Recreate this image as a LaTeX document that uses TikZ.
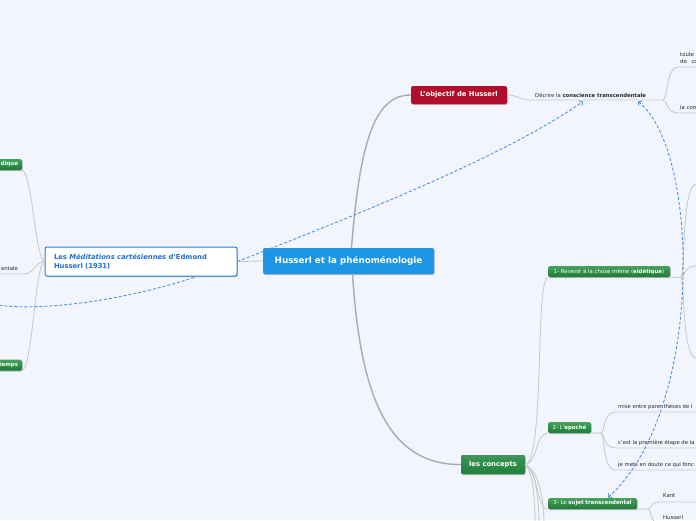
\documentclass[tikz,border=0pt]{standalone}
\usepackage{fontspec}
\setmainfont{DejaVu Sans}
\usetikzlibrary{arrows.meta,shadows}
\definecolor{bg}{HTML}{F2F5FD}
\definecolor{cblue}{HTML}{1E96E8}
\definecolor{cred}{HTML}{B20E2C}
\definecolor{cgreen}{HTML}{1D8239}
\definecolor{gtop}{HTML}{46A25C}
\definecolor{gbot}{HTML}{1E7A36}
\definecolor{mblue}{HTML}{1F6FD0}
\definecolor{mborder}{HTML}{2B7FD6}
\definecolor{lgray}{HTML}{CACACA}
\definecolor{dgray}{HTML}{ABABAB}
\definecolor{rel}{HTML}{4C92E0}
\definecolor{txt}{HTML}{262626}
\tikzset{
  shad/.style={drop shadow={shadow xshift=0.6pt,shadow yshift=-1pt,opacity=0.25,fill=black}},
  bigbox/.style={rounded corners=2pt,inner sep=0pt,text=white,shad},
  greenbox/.style={rounded corners=1.5pt,inner sep=0pt,minimum height=11pt,text=white,
     top color=gtop,bottom color=gbot,font=\fontsize{5.4}{6}\selectfont,shad},
  small/.style={inner sep=0pt,text=txt,font=\fontsize{5.3}{7}\selectfont},
  main/.style={draw=dgray,line width=1.4pt},
  sub/.style={draw=lgray,line width=0.9pt},
  relation/.style={draw=rel,line width=0.9pt,dash pattern=on 3pt off 2pt},
  barb/.tip={Straight Barb[length=2.6pt,width=5.5pt,line width=0.8pt]}
}
\begin{document}
\begin{tikzpicture}[x=1pt,y=-1pt]
\useasboundingbox (0,0) rectangle (696,520);
\fill[bg] (0,0) rectangle (696,520);
\clip (0,0) rectangle (696,520);

% ---------- nodes ----------
\node[bigbox,fill=cblue,minimum width=171pt,minimum height=26pt,
      font=\fontsize{8.75}{10}\selectfont\bfseries] (ctr) at (348.5,261) {Husserl et la phénoménologie};
\node[bigbox,fill=cred,minimum width=96pt,minimum height=18pt,
      font=\fontsize{6.8}{8}\selectfont\bfseries] (obj) at (459,95) {L'objectif de Husserl};
\node[bigbox,fill=cgreen,top color=cgreen!85!white,bottom color=cgreen,minimum width=64pt,minimum height=19pt,
      font=\fontsize{6.8}{8}\selectfont\bfseries] (con) at (493,464.5) {les concepts};
\node[rounded corners=2pt,fill=white,draw=mborder,line width=1pt,shad,inner xsep=9pt,inner ysep=0pt,
      minimum height=29pt,text width=174pt,align=left,text=mblue,
      font=\fontsize{6.8}{9}\selectfont\bfseries] (med) at (141,261.5)
      {Les \textit{Méditations cartésiennes} d'Edmond\\Husserl (1931)};

\node[greenbox,minimum width=122pt] (rev) at (609,271.5) {1- Revenir à la chose même (\textbf{eidétique})};
\node[greenbox,minimum width=43pt] (epo) at (569.5,427.5) {2- L'\textbf{epoché}};
\node[greenbox,minimum width=89pt] (suj) at (592.5,503.5) {3- Le \textbf{sujet transcendental}};
\node[greenbox,text width=34pt,align=right,inner xsep=4pt] (gl1) at (1,164.5) {\textbf{dique}};
\node[greenbox,text width=34pt,align=right,inner xsep=4pt] (gl2) at (1,365) {\textbf{temps}};

\node[small,anchor=base west] (dec) at (535,97) {Décrire la \textbf{conscience transcendentale}};
\node[small,anchor=base west] (t1) at (680,56) {toute};
\node[small,anchor=base west] (t2) at (680,63.5) {de\hspace{3pt} co};
\node[small,anchor=base west] (t3) at (680,109) {la com};
\node[small,anchor=base east] (lent) at (18,270) {entale};
\node[small,anchor=base west] (e1) at (618,408) {mise entre parenthèses de l};
\node[small,anchor=base west] (e2) at (618,444) {c'est la première étape de la};
\node[small,anchor=base west] (e3) at (618,466) {je mets en doute ce qui fonc};
\node[small,anchor=base west] (k1) at (663,497) {Kant};
\node[small,anchor=base west] (k2) at (663,519) {Husserl};

% ---------- helper coordinates ----------
\coordinate (decl) at (530,100);
\coordinate (decr) at (663,100);
\coordinate (revj) at (681,277.5);
\coordinate (epoj) at (601,433);
\coordinate (sujj) at (648,509);
\coordinate (medj) at (45,261);
\coordinate (conj) at (525,465);

% ---------- main connectors ----------
\draw[main] (ctr.north) ++(3,0) .. controls (360,140) and (375,95) .. (obj.west);
\draw[main] (ctr.south) ++(4,0) .. controls (360,390) and (385,465) .. (con.west);
\draw[sub] (ctr.west) -- (med.east);

% L'objectif -> Décrire
\draw[sub] (obj.east) .. controls (518,95) and (520,100) .. (decl) -- (decr);
\draw[sub] (decr) .. controls (668,99) and (666,67) .. (678,67) -- (700,67);
\draw[sub] (decr) .. controls (668,101) and (666,113) .. (678,113) -- (700,113);

% Méditations -> left
\draw[sub] (medj) .. controls (35,261) and (33,175) .. (gl1.south east);
\draw[sub] (medj) .. controls (35,261) and (33,365) .. (gl2.south east);
\draw[sub] (medj) .. controls (35,262) and (34,274) .. (24,274) -- (-5,274);

% les concepts -> children
\draw[sub] (conj) .. controls (545,460) and (535,280) .. (rev.south west);
\draw[sub] (conj) .. controls (538,462) and (535,434) .. (epo.south west);
\draw[sub] (conj) .. controls (538,468) and (536,508) .. (suj.south west);
\draw[sub] (conj) .. controls (533,470) and (535,500) .. (535,525);
\draw[sub] (conj) .. controls (536,470) and (539,500) .. (539,525);
\draw[sub] (conj) .. controls (539,470) and (544,500) .. (544,525);

% Revenir -> right
\draw[sub] (rev.south east) -- (revj);
\draw[sub] (revj) .. controls (685,270) and (682,186) .. (696,184) -- (700,184);
\draw[sub] (revj) .. controls (685,276) and (684,266) .. (696,266) -- (700,266);
\draw[sub] (revj) .. controls (685,285) and (682,356) .. (696,358) -- (700,358);

% Epoché -> right
\draw[sub] (epo.south east) -- (epoj);
\draw[sub] (epoj) .. controls (605,432) and (603,412) .. (616,412) -- (700,412);
\draw[sub] (epoj) .. controls (605,434) and (603,448) .. (616,448) -- (700,448);
\draw[sub] (epoj) .. controls (605,434) and (602,470) .. (616,470) -- (700,470);

% Sujet -> right
\draw[sub] (suj.south east) -- (sujj);
\draw[sub] (sujj) .. controls (652,508) and (650,502) .. (660,502) -- (700,502);
\draw[sub] (sujj) .. controls (652,510) and (650,524) .. (660,524) -- (700,524);

% ---------- relations ----------
\coordinate (decarr) at (583,101.5);
\coordinate (decarr2) at (638,101.5);
\coordinate (sujarr) at (608,497.5);
\coordinate (leftrel) at (-25,300);
\coordinate (medb) at (197,276.5);
\draw[relation,-barb] (med.east) .. controls (330,225) and (500,160) .. (decarr);
\draw[relation] (leftrel) .. controls (20,316) and (120,302) .. (medb);
\draw[relation,barb-barb] (sujarr) .. controls (705,410) and (700,150) .. (decarr2);
\end{tikzpicture}
\end{document}
